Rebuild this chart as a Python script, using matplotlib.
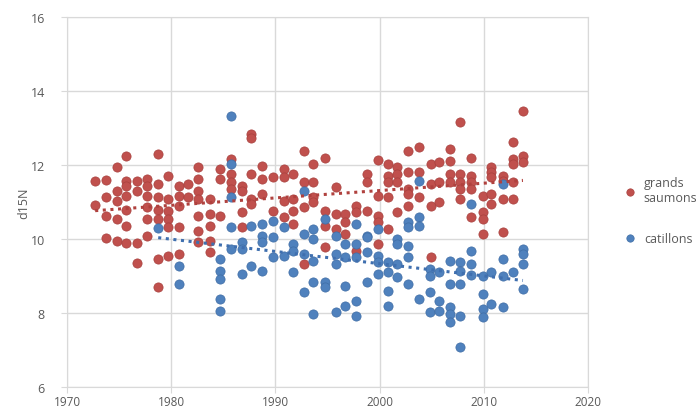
import numpy as np
import matplotlib
matplotlib.use('Agg')
import matplotlib.pyplot as plt

# grands saumons : année, d15N (colonne par colonne)
red_year = [1972.7] * 2 + [1973.75] * 4 + [1974.8] * 5 + [1975.7] * 7 + [1976.7] * 4 \
    + [1977.7] * 6 + [1978.75] * 7 + [1979.7] * 6 + [1980.7] * 5 + [1981.6] * 2 \
    + [1982.6] * 7 + [1983.75] * 5 + [1984.7] * 3 + [1985.7] * 4 + [1986.8] * 4 \
    + [1987.7] * 5 + [1988.75] * 3 + [1989.8] * 2 + [1990.8] * 4 + [1991.7] * 4 \
    + [1992.7] * 4 + [1993.65] * 4 + [1994.8] * 4 + [1995.8] * 3 + [1996.7] * 3 \
    + [1997.7] * 3 + [1998.8] * 3 + [1999.8] * 5 + [2000.8] * 5 + [2001.7] * 4 \
    + [2002.7] * 5 + [2003.75] * 3 + [2004.9] * 4 + [2005.7] * 3 + [2006.8] * 4 \
    + [2007.7] * 5 + [2008.75] * 5 + [2009.9] * 4 + [2010.7] * 5 + [2011.8] * 4 \
    + [2012.8] * 5 + [2013.75] * 3
red_d15n = [11.57, 10.92,
            11.6, 11.14, 10.62, 10.03,
            11.95, 11.3, 11.03, 10.54, 9.95,
            12.24, 11.57, 11.43, 11.16, 10.78, 10.35, 9.89,
            11.57, 11.3, 9.89, 9.35,
            11.62, 11.43, 11.16, 10.86, 10.54, 10.08,
            12.3, 11.49, 11.14, 10.78, 10.54, 9.46, 8.7,
            11.7, 11.08, 10.76, 10.54, 10.32, 9.54,
            11.43, 11.16, 10.9, 10.32, 9.6,
            11.49, 11.14,
            11.95, 11.62, 11.3, 11.08, 10.62, 10.22, 9.92,
            11.08, 10.68, 10.35, 9.95, 9.65,
            11.89, 11.62, 10.62,
            12.16, 11.76, 11.54, 11.35,
            11.43, 11.3, 10.73, 10.32,
            12.84, 12.73, 11.76, 11.08, 10.95,
            11.97, 11.62, 11.22,
            11.68, 10.76,
            11.89, 11.68, 11.03, 10.59,
            11.76, 11.08, 10.76, 10.41,
            12.38, 11.54, 10.86, 9.32,
            12.03, 11.54, 11.14, 11.0,
            12.19, 10.76, 10.35, 9.78,
            11.41, 10.68, 10.27,
            10.68, 10.46, 10.14,
            10.89, 10.73, 9.68,
            11.76, 11.54, 10.76,
            12.14, 11.16, 10.62, 10.46, 9.86,
            12.03, 11.7, 11.54, 11.14, 10.27,
            11.95, 11.76, 11.54, 10.73,
            12.38, 11.81, 11.35, 11.22, 10.89,
            12.49, 11.81, 11.14,
            12.03, 11.49, 10.89, 9.51,
            12.08, 11.54, 11.0,
            12.43, 12.11, 11.76, 11.54,
            13.16, 11.75, 11.54, 11.35, 11.08,
            12.2, 11.7, 11.54, 11.35, 10.59,
            11.16, 10.73, 10.54, 10.14,
            11.95, 11.81, 11.68, 11.22, 10.95,
            11.7, 11.57, 11.08, 10.19,
            12.62, 12.16, 12.03, 11.54, 11.08,
            13.46, 12.24, 12.08]

# catillons
blue_year = [1978.75] * 1 + [1980.7] * 2 + [1984.7] * 5 + [1985.7] * 5 + [1986.8] * 3 \
    + [1987.7] * 2 + [1988.75] * 4 + [1989.8] * 3 + [1990.8] * 2 + [1991.7] * 3 \
    + [1992.7] * 4 + [1993.65] * 5 + [1994.8] * 3 + [1995.8] * 4 + [1996.7] * 4 \
    + [1997.7] * 5 + [1998.8] * 4 + [1999.8] * 4 + [2000.8] * 4 + [2001.7] * 4 \
    + [2002.7] * 5 + [2003.75] * 4 + [2004.8] * 4 + [2005.7] * 3 + [2006.8] * 5 \
    + [2007.7] * 5 + [2008.75] * 4 + [2009.9] * 4 + [2010.7] * 2 + [2011.8] * 4 \
    + [2012.8] * 1 + [2013.75] * 4
blue_d15n = [10.3,
             9.27, 8.78,
             9.46, 9.14, 8.92, 8.38, 8.05,
             13.32, 12.03, 11.14, 10.32, 9.73,
             9.92, 9.73, 9.05,
             10.35, 9.27,
             10.41, 10.08, 9.92, 9.14,
             10.49, 10.05, 9.51,
             10.32, 9.54,
             9.86, 9.68, 9.11,
             11.3, 10.14, 9.59, 8.57,
             10.27, 10.0, 9.41, 8.84, 7.97,
             10.54, 8.84, 8.7,
             10.08, 9.59, 9.32, 8.03,
             9.86, 9.51, 8.73, 8.19,
             10.41, 9.86, 9.51, 8.32, 7.92,
             10.08, 10.05, 9.65, 8.84,
             10.27, 9.54, 9.38, 9.05,
             9.38, 9.11, 8.59, 8.19,
             10.0, 9.86, 9.32, 8.97,
             10.46, 10.32, 9.81, 9.51, 8.78,
             11.57, 10.59, 10.35, 8.38,
             9.19, 9.0, 8.57, 8.03,
             9.11, 8.32, 8.05,
             9.41, 8.78, 8.16, 7.97, 7.76,
             9.38, 9.14, 8.78, 7.92, 7.08,
             10.95, 9.68, 9.32, 9.03,
             9.0, 8.51, 8.11, 7.89,
             9.11, 8.24,
             11.49, 9.46, 9.0, 8.16,
             9.11,
             9.73, 9.59, 9.32, 8.65]

red_color = '#C0504D'
blue_color = '#4F81BD'
text_color = '#595959'

plt.rcParams['font.family'] = ['Open Sans', 'DejaVu Sans']

fig = plt.figure(figsize=(6.96, 4.10), dpi=100)
ax = fig.add_axes([0.0963, 0.0537, 0.7486, 0.9023])

ax.scatter(red_year, red_d15n, s=44, color=red_color, edgecolors='#A8403D',
           linewidths=0.5, label='grands\nsaumons', zorder=3)
ax.scatter(blue_year, blue_d15n, s=44, color=blue_color, edgecolors='#3F6DA5',
           linewidths=0.5, label='catillons', zorder=3)

# courbes de tendance linéaires
for xs, ys, c in [(red_year, red_d15n, '#B0413E'), (blue_year, blue_d15n, '#3F6FAF')]:
    xs = np.array(xs)
    k, b = np.polyfit(xs, np.array(ys), 1)
    xx = np.array([xs.min(), xs.max()])
    ax.plot(xx, k * xx + b, linestyle=(0, (1, 1.5)), color=c, lw=2.2, zorder=4)

ax.set_xlim(1970, 2020)
ax.set_ylim(6, 16)
ax.set_xticks(range(1970, 2021, 10))
ax.set_yticks(range(6, 17, 2))
ax.grid(True, color='#D9D9D9', lw=1)
ax.set_axisbelow(True)
for s in ax.spines.values():
    s.set_color('#D9D9D9')
ax.tick_params(colors='#D9D9D9', labelcolor=text_color, labelsize=9, length=4)
ax.tick_params(axis='y', pad=12)
ax.tick_params(axis='x', pad=2, labelsize=8.5)
ax.set_ylabel('d15N', color=text_color, fontsize=9, labelpad=0)

ax.legend(loc='upper left', bbox_to_anchor=(1.035, 0.6), frameon=False,
          fontsize=9, labelcolor=text_color, handletextpad=0.1,
          labelspacing=2.2, scatterpoints=1, markerscale=0.8)

fig.savefig('out.png', dpi=100)
